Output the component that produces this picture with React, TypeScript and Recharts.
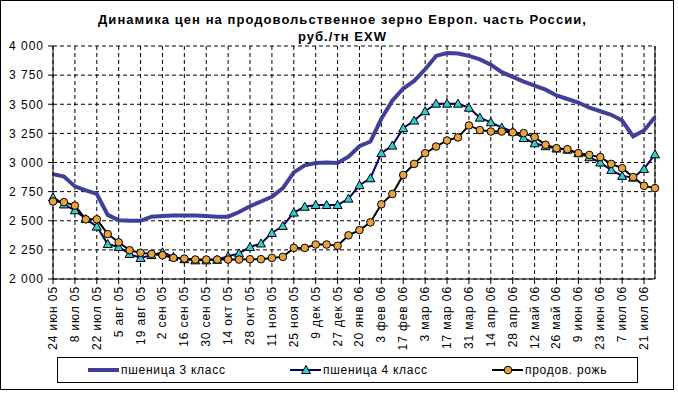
import React from 'react'
import {
  LineChart,
  Line,
  XAxis,
  YAxis,
  CartesianGrid,
  ReferenceLine,
} from 'recharts'

// weekly quotes, labels shown on every second week
const weeks = [
  '24 июн 05', '1 июл 05', '8 июл 05', '15 июл 05', '22 июл 05', '29 июл 05',
  '5 авг 05', '12 авг 05', '19 авг 05', '26 авг 05', '2 сен 05', '9 сен 05',
  '16 сен 05', '23 сен 05', '30 сен 05', '7 окт 05', '14 окт 05', '21 окт 05',
  '28 окт 05', '4 ноя 05', '11 ноя 05', '18 ноя 05', '25 ноя 05', '2 дек 05',
  '9 дек 05', '16 дек 05', '27 дек 05', '13 янв 06', '20 янв 06', '27 янв 06',
  '3 фев 06', '10 фев 06', '17 фев 06', '24 фев 06', '3 мар 06', '10 мар 06',
  '17 мар 06', '24 мар 06', '31 мар 06', '7 апр 06', '14 апр 06', '21 апр 06',
  '28 апр 06', '5 май 06', '12 май 06', '19 май 06', '26 май 06', '2 июн 06',
  '9 июн 06', '16 июн 06', '23 июн 06', '30 июн 06', '7 июл 06', '14 июл 06',
  '21 июл 06', '28 июл 06',
]

const wheat3 = [
  2900, 2880, 2795, 2760, 2730, 2550, 2505, 2500, 2500, 2535, 2540, 2545,
  2545, 2545, 2540, 2535, 2535, 2575, 2625, 2665, 2705, 2780, 2915, 2975,
  2995, 3000, 2995, 3050, 3140, 3180, 3375, 3530, 3635, 3700, 3800, 3915,
  3940, 3935, 3915, 3885, 3840, 3775, 3735, 3695, 3660, 3625, 3575, 3545,
  3515, 3470, 3440, 3410, 3360, 3225, 3275, 3390,
]

const wheat4 = [
  2700, 2640, 2590, 2515, 2450, 2300, 2275, 2215, 2180, 2205, 2230, 2190,
  2170, 2160, 2160, 2165, 2195, 2220, 2275, 2305, 2395, 2455, 2570, 2620,
  2635, 2635, 2635, 2690, 2805, 2865, 3080, 3145, 3295, 3360, 3440, 3505,
  3505, 3505, 3470, 3385, 3345, 3300, 3265, 3210, 3165, 3140, 3120, 3110,
  3080, 3045, 3000, 2935, 2885, 2870, 2945, 3070,
]

const rye = [
  2665, 2660, 2630, 2512, 2512, 2385, 2315, 2247, 2225, 2215, 2204, 2181,
  2175, 2167, 2167, 2167, 2167, 2167, 2170, 2170, 2181, 2190, 2267, 2267,
  2296, 2296, 2285, 2375, 2420, 2486, 2641, 2730, 2893, 2988, 3080, 3137,
  3189, 3215, 3318, 3278, 3266, 3266, 3258, 3252, 3218, 3152, 3123, 3114,
  3080, 3065, 3046, 2988, 2951, 2875, 2800, 2780,
]

const yTicks = [2000, 2250, 2500, 2750, 3000, 3250, 3500, 3750, 4000]

const seriesNames = ['пшеница 3 класс', 'пшеница 4 класс', 'продов. рожь']

const data = weeks.map((w, i) => ({
  week: w,
  wheat3: wheat3[i],
  wheat4: wheat4[i],
  rye: rye[i],
}))

const FONT = '"Liberation Sans", Arial, sans-serif'
const W3_COLOR = '#40409a'
const W4_COLOR = '#000066'
const TRI_FILL = '#33cccc'
const RYE_FILL = '#e8a33c'

const fmtThousands = (v: number) =>
  `${Math.floor(v / 1000)} ${String(v % 1000).padStart(3, '0')}`

const TriangleDot = (props: any) => {
  const { cx, cy } = props
  if (cx == null || cy == null) return null
  return (
    <path
      d={`M${cx},${cy - 4.5} L${cx + 4.5},${cy + 3.5} L${cx - 4.5},${cy + 3.5} Z`}
      fill={TRI_FILL}
      stroke="#000"
      strokeWidth={1}
    />
  )
}

const CircleDot = (props: any) => {
  const { cx, cy } = props
  if (cx == null || cy == null) return null
  return <circle cx={cx} cy={cy} r={3.8} fill={RYE_FILL} stroke="#000" strokeWidth={1} />
}

const RotatedTick = (props: any) => {
  const { x, y, payload } = props
  return (
    <text
      x={x}
      y={y}
      transform={`rotate(-90 ${x} ${y})`}
      textAnchor="end"
      dominantBaseline="central"
      fontFamily={FONT}
      fontSize={12}
      letterSpacing={0.9}
      fill="#000"
    >
      {payload.value}
    </text>
  )
}

function LegendBox() {
  const item = (left: number, idx: number) => (
    <div style={{ position: 'absolute', left, top: 0, height: 24, display: 'flex', alignItems: 'center' }}>
      <svg width={32} height={12} style={{ display: 'block' }}>
        {idx === 0 && <line x1={0} y1={6} x2={31} y2={6} stroke={W3_COLOR} strokeWidth={4} />}
        {idx === 1 && (
          <>
            <line x1={0} y1={6} x2={31} y2={6} stroke={W4_COLOR} strokeWidth={2} />
            <TriangleDot cx={16} cy={6} />
          </>
        )}
        {idx === 2 && (
          <>
            <line x1={0} y1={6} x2={31} y2={6} stroke="#000" strokeWidth={2} />
            <CircleDot cx={16} cy={6} />
          </>
        )}
      </svg>
      <span style={{ fontFamily: FONT, fontSize: 12, letterSpacing: 0.7, marginLeft: 1, color: '#000' }}>
        {seriesNames[idx]}
      </span>
    </div>
  )
  return (
    <div
      style={{
        position: 'absolute',
        left: 57,
        top: 357,
        width: 581,
        height: 26,
        border: '1px solid #000',
        boxSizing: 'border-box',
        background: '#fff',
      }}
    >
      {item(30, 0)}
      {item(232, 1)}
      {item(434, 2)}
    </div>
  )
}

export default function App() {
  return (
    <div style={{ position: 'absolute', left: 0, top: 0, width: 674, height: 390, background: '#fff' }}>
      <div
        style={{
          position: 'absolute',
          left: 0,
          top: 11,
          width: 685,
          textAlign: 'center',
          fontFamily: FONT,
          fontWeight: 'bold',
          fontSize: 13,
          letterSpacing: 1.05,
          lineHeight: '17px',
          color: '#000',
        }}
      >
        Динамика цен на продовольственное зерно Европ. часть России,
        <br />
        руб./тн EXW
      </div>

      <div style={{ position: 'absolute', left: 0, top: 0 }}>
        <LineChart
          width={674}
          height={390}
          data={data}
          margin={{ top: 46, right: 19, bottom: 31, left: 3 }}
        >
          <CartesianGrid stroke="#000" strokeDasharray="4 3" strokeWidth={1} />
          <XAxis
            dataKey="week"
            interval={1}
            height={80}
            tick={<RotatedTick />}
            tickSize={5}
            tickLine={{ stroke: '#000' }}
            axisLine={{ stroke: '#000' }}
          />
          <YAxis
            width={50}
            domain={[2000, 4000]}
            ticks={yTicks}
            tickFormatter={fmtThousands}
            tickSize={5}
            tickMargin={4}
            tickLine={{ stroke: '#000' }}
            axisLine={{ stroke: '#000' }}
            tick={{ fill: '#000', fontSize: 12, fontFamily: FONT, letterSpacing: 1 }}
          />
          <ReferenceLine x={weeks[weeks.length - 1]} stroke="#000" />
          <Line
            dataKey="wheat3"
            stroke={W3_COLOR}
            strokeWidth={4}
            dot={false}
            isAnimationActive={false}
          />
          <Line
            dataKey="wheat4"
            stroke={W4_COLOR}
            strokeWidth={2}
            dot={<TriangleDot />}
            isAnimationActive={false}
          />
          <Line
            dataKey="rye"
            stroke="#000"
            strokeWidth={2}
            dot={<CircleDot />}
            isAnimationActive={false}
          />
        </LineChart>
      </div>

      <LegendBox />

      <div
        style={{
          position: 'absolute',
          left: 0,
          top: 0,
          width: 674,
          height: 390,
          border: '1px solid #000',
          boxSizing: 'border-box',
          pointerEvents: 'none',
        }}
      />
    </div>
  )
}
